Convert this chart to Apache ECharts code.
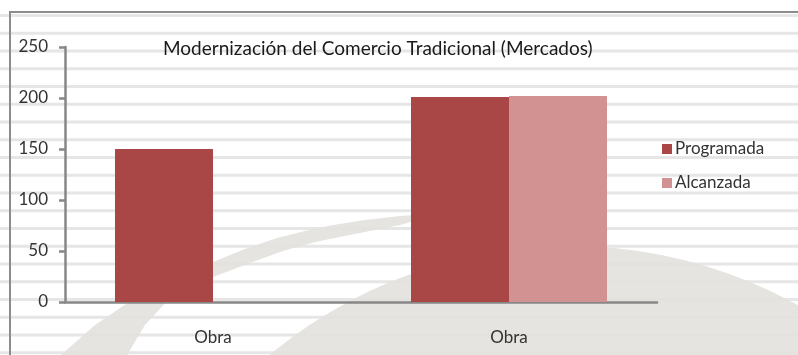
<!DOCTYPE html>
<html>
<head>
<meta charset="utf-8">
<script src="https://cdn.jsdelivr.net/npm/echarts@6/dist/echarts.min.js"></script>
<style>
  html, body { margin: 0; padding: 0; background: #ffffff; }
  #chart { width: 798px; height: 355px; }
</style>
</head>
<body>
<div id="chart"></div>
<script>
// Chart content
const chartTitle = 'Modernización del Comercio Tradicional (Mercados)';
const categories = ['Obra', 'Obra'];
const seriesNames = ['Programada', 'Alcanzada'];
const programada = [150, 201];
const alcanzada = [0, 202];
const yTicks = { min: 0, max: 250, interval: 50 };

const FONT = 'Lato, "Open Sans", sans-serif';
const AXIS_GREY = '#878787';

// Decorative background: light horizontal stripes, a dome and a swoosh band
function backgroundGraphics() {
  const els = [];
  for (let k = 0; k < 21; k++) {
    els.push({
      type: 'rect', z: -20, silent: true,
      shape: { x: 0, y: 14 + k * 17.75, width: 798, height: 3 },
      style: { fill: '#e6e6e6' }
    });
  }
  els.push({
    type: 'circle', z: -15, silent: true,
    shape: { cx: 570, cy: 715, r: 469 },
    style: { fill: '#e3e2dd', opacity: 0.92 }
  });
  els.push({
    type: 'polygon', z: -15, silent: true,
    shape: {
      points: [
        [52, 362], [61, 355], [95, 325], [132, 300], [170, 280], [213, 262],
        [245, 249], [277, 238], [305, 231], [333, 225], [365, 220], [400, 216],
        [442, 213],
        [400, 225], [350, 235], [315, 242], [283, 251], [250, 263], [213, 277],
        [190, 288], [168, 300], [145, 325], [127, 355], [122, 362]
      ]
    },
    style: { fill: '#e3e2dd', opacity: 0.92 }
  });
  // frame of the chart area
  els.push({
    type: 'rect', z: -5, silent: true,
    shape: { x: 10, y: 12, width: 900, height: 400 },
    style: { fill: 'none', stroke: '#8c8c8c', lineWidth: 2 }
  });
  return els;
}

const chart = echarts.init(document.getElementById('chart'), null, { renderer: 'canvas' });

chart.setOption({
  animation: false,
  backgroundColor: '#ffffff',
  graphic: { elements: backgroundGraphics() },
  title: {
    text: chartTitle,
    left: 158,
    top: 34,
    textStyle: { fontFamily: FONT, fontSize: 19, fontWeight: 'normal', color: '#1a1a1a' }
  },
  legend: {
    data: seriesNames,
    orient: 'vertical',
    left: 657,
    top: 135,
    itemWidth: 10,
    itemHeight: 10,
    itemGap: 16,
    icon: 'rect',
    textStyle: { fontFamily: FONT, fontSize: 17, color: '#333333', lineHeight: 18, padding: [0, 0, 0, -2] }
  },
  grid: { left: 65, right: 141, top: 47, bottom: 53, containLabel: false },
  xAxis: {
    type: 'category',
    data: categories,
    axisLine: { lineStyle: { color: AXIS_GREY, width: 2.5 } },
    axisTick: { length: 6, lineStyle: { color: AXIS_GREY, width: 2.5 } },
    axisLabel: { margin: 27, fontFamily: FONT, fontSize: 17, color: '#333333' }
  },
  yAxis: {
    type: 'value',
    min: yTicks.min,
    max: yTicks.max,
    interval: yTicks.interval,
    splitLine: { show: false },
    axisLine: { show: true, lineStyle: { color: AXIS_GREY, width: 2.5 } },
    axisTick: { show: true, length: 6, lineStyle: { color: AXIS_GREY, width: 2.5 } },
    axisLabel: { margin: 17, fontFamily: FONT, fontSize: 17, color: '#333333' }
  },
  series: [
    {
      name: seriesNames[0], type: 'bar', data: programada,
      barWidth: 98, barGap: '0%',
      itemStyle: { color: '#a94646' }
    },
    {
      name: seriesNames[1], type: 'bar', data: alcanzada,
      barWidth: 98, barGap: '0%',
      itemStyle: { color: '#d39292' }
    }
  ]
});
</script>
</body>
</html>
